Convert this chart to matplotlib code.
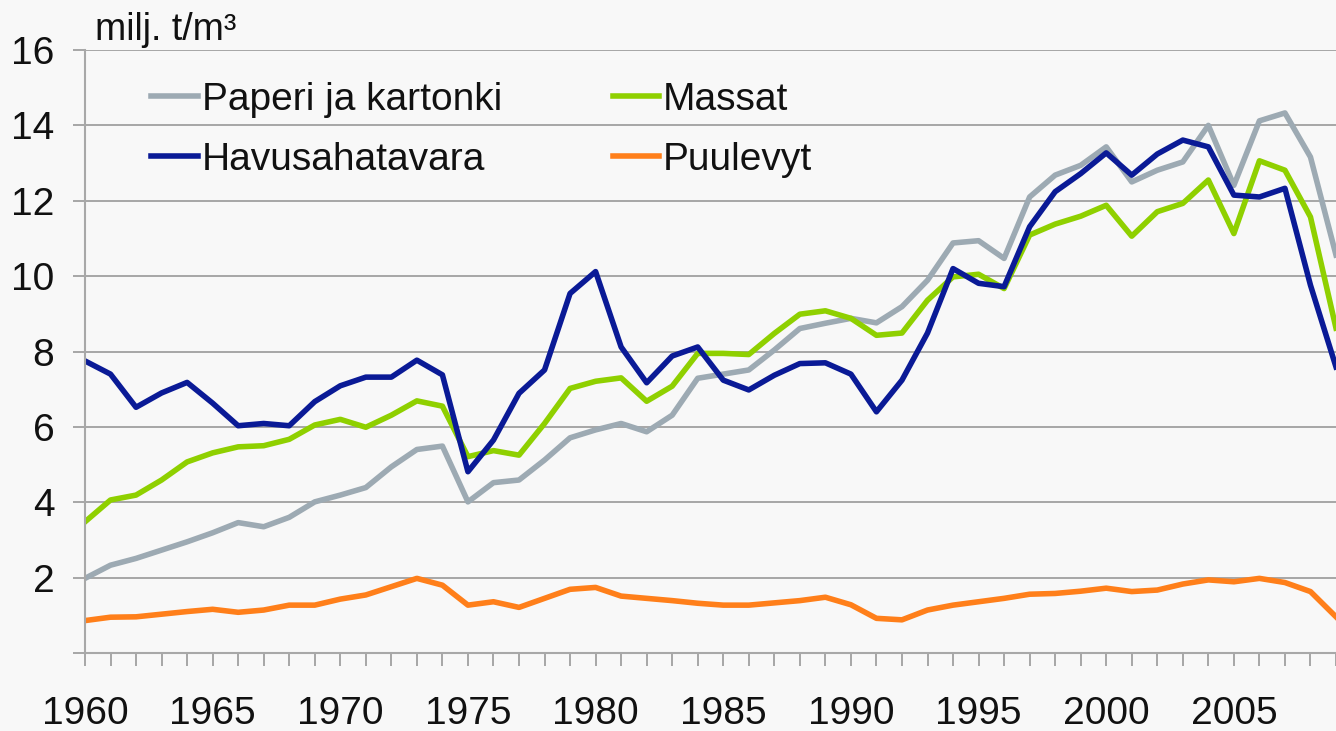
import matplotlib
matplotlib.use('Agg')
import matplotlib.pyplot as plt

plt.rcParams['font.family'] = ['Liberation Sans', 'DejaVu Sans']

# vuodet 1960-2009
years = list(range(1960, 2010))

paperi = [1.98, 2.33, 2.51, 2.73, 2.95, 3.19, 3.46, 3.35, 3.60, 4.01,
          4.19, 4.39, 4.94, 5.40, 5.49, 4.01, 4.52, 4.59, 5.12, 5.71,
          5.92, 6.09, 5.87, 6.31, 7.29, 7.40, 7.51, 8.04, 8.61, 8.75,
          8.88, 8.76, 9.19, 9.89, 10.88, 10.94, 10.47, 12.10, 12.68, 12.94,
          13.43, 12.50, 12.81, 13.03, 14.00, 12.41, 14.12, 14.33, 13.16, 10.56]

massat = [3.48, 4.06, 4.19, 4.59, 5.07, 5.31, 5.47, 5.50, 5.67, 6.05,
          6.20, 5.99, 6.31, 6.69, 6.55, 5.21, 5.37, 5.25, 6.09, 7.02,
          7.21, 7.30, 6.68, 7.08, 7.95, 7.95, 7.92, 8.48, 8.99, 9.08,
          8.88, 8.43, 8.49, 9.36, 9.98, 10.05, 9.67, 11.09, 11.38, 11.59,
          11.88, 11.06, 11.71, 11.93, 12.55, 11.13, 13.06, 12.81, 11.57, 8.62]

havu = [7.75, 7.40, 6.52, 6.90, 7.18, 6.63, 6.03, 6.09, 6.03, 6.67,
        7.09, 7.32, 7.32, 7.77, 7.38, 4.81, 5.65, 6.89, 7.51, 9.54,
        10.12, 8.12, 7.17, 7.88, 8.12, 7.24, 6.98, 7.37, 7.68, 7.70,
        7.40, 6.40, 7.24, 8.49, 10.20, 9.81, 9.72, 11.31, 12.24, 12.72,
        13.27, 12.68, 13.24, 13.61, 13.43, 12.15, 12.10, 12.33, 9.76, 7.59]

puulevyt = [0.86, 0.95, 0.96, 1.03, 1.10, 1.16, 1.08, 1.14, 1.27, 1.27,
            1.43, 1.54, 1.76, 1.98, 1.80, 1.27, 1.36, 1.21, 1.45, 1.69,
            1.74, 1.51, 1.45, 1.39, 1.32, 1.27, 1.27, 1.33, 1.39, 1.48,
            1.28, 0.92, 0.88, 1.14, 1.27, 1.36, 1.45, 1.56, 1.58, 1.64,
            1.72, 1.63, 1.67, 1.83, 1.94, 1.89, 1.98, 1.87, 1.63, 0.96]

bg = '#f8f8f8'
fig = plt.figure(figsize=(13.36, 7.31), dpi=100)
fig.patch.set_facecolor(bg)
ax = fig.add_axes([0.0636, 0.1067, 0.9364, 0.8249])
ax.set_facecolor(bg)

lw = 4.0
l_pap, = ax.plot(years, paperi, color='#9daab3', lw=lw, label='Paperi ja kartonki')
l_mas, = ax.plot(years, massat, color='#8fd000', lw=lw, label='Massat')
l_hav, = ax.plot(years, havu, color='#0a1a96', lw=lw, label='Havusahatavara')
l_puu, = ax.plot(years, puulevyt, color='#ff7f1a', lw=lw, label='Puulevyt')

ax.set_xlim(1960, 2009)
ax.set_ylim(0, 16)

ax.set_yticks([0, 2, 4, 6, 8, 10, 12, 14, 16])
ax.set_yticklabels(['', '2', '4', '6', '8', '10', '12', '14', '16'])
ax.set_xticks(years)
ax.set_xticklabels([str(y) if y % 5 == 0 else '' for y in years])

ax.grid(axis='y', color='#a0a0a0', lw=1.3)
ax.set_axisbelow(True)
for s in ['top', 'right']:
    ax.spines[s].set_visible(False)
for s in ['left', 'bottom']:
    ax.spines[s].set_color('#a8a8a8')
    ax.spines[s].set_linewidth(1.5)

ax.tick_params(axis='y', length=9, width=1.3, color='#a0a0a0', pad=13, labelsize=28, labelcolor='#111111')
ax.tick_params(axis='x', length=9, width=1.3, color='#a0a0a0', pad=22, labelsize=28, labelcolor='#111111')

fig.text(0.071, 0.935, 'milj. t/m³', fontsize=27, color='#111111', va='bottom', ha='left')

leg = ax.legend(handles=[l_pap, l_hav, l_mas, l_puu], ncol=2, loc='upper left',
                bbox_to_anchor=(0.113, 0.888), bbox_transform=fig.transFigure,
                frameon=False, fontsize=28, handlelength=1.2, handletextpad=0.1,
                columnspacing=2.85, labelspacing=0.62, borderpad=0, borderaxespad=0)
for t in leg.get_texts():
    t.set_color('#111111')

fig.savefig('out.png', dpi=100, facecolor=fig.get_facecolor())
